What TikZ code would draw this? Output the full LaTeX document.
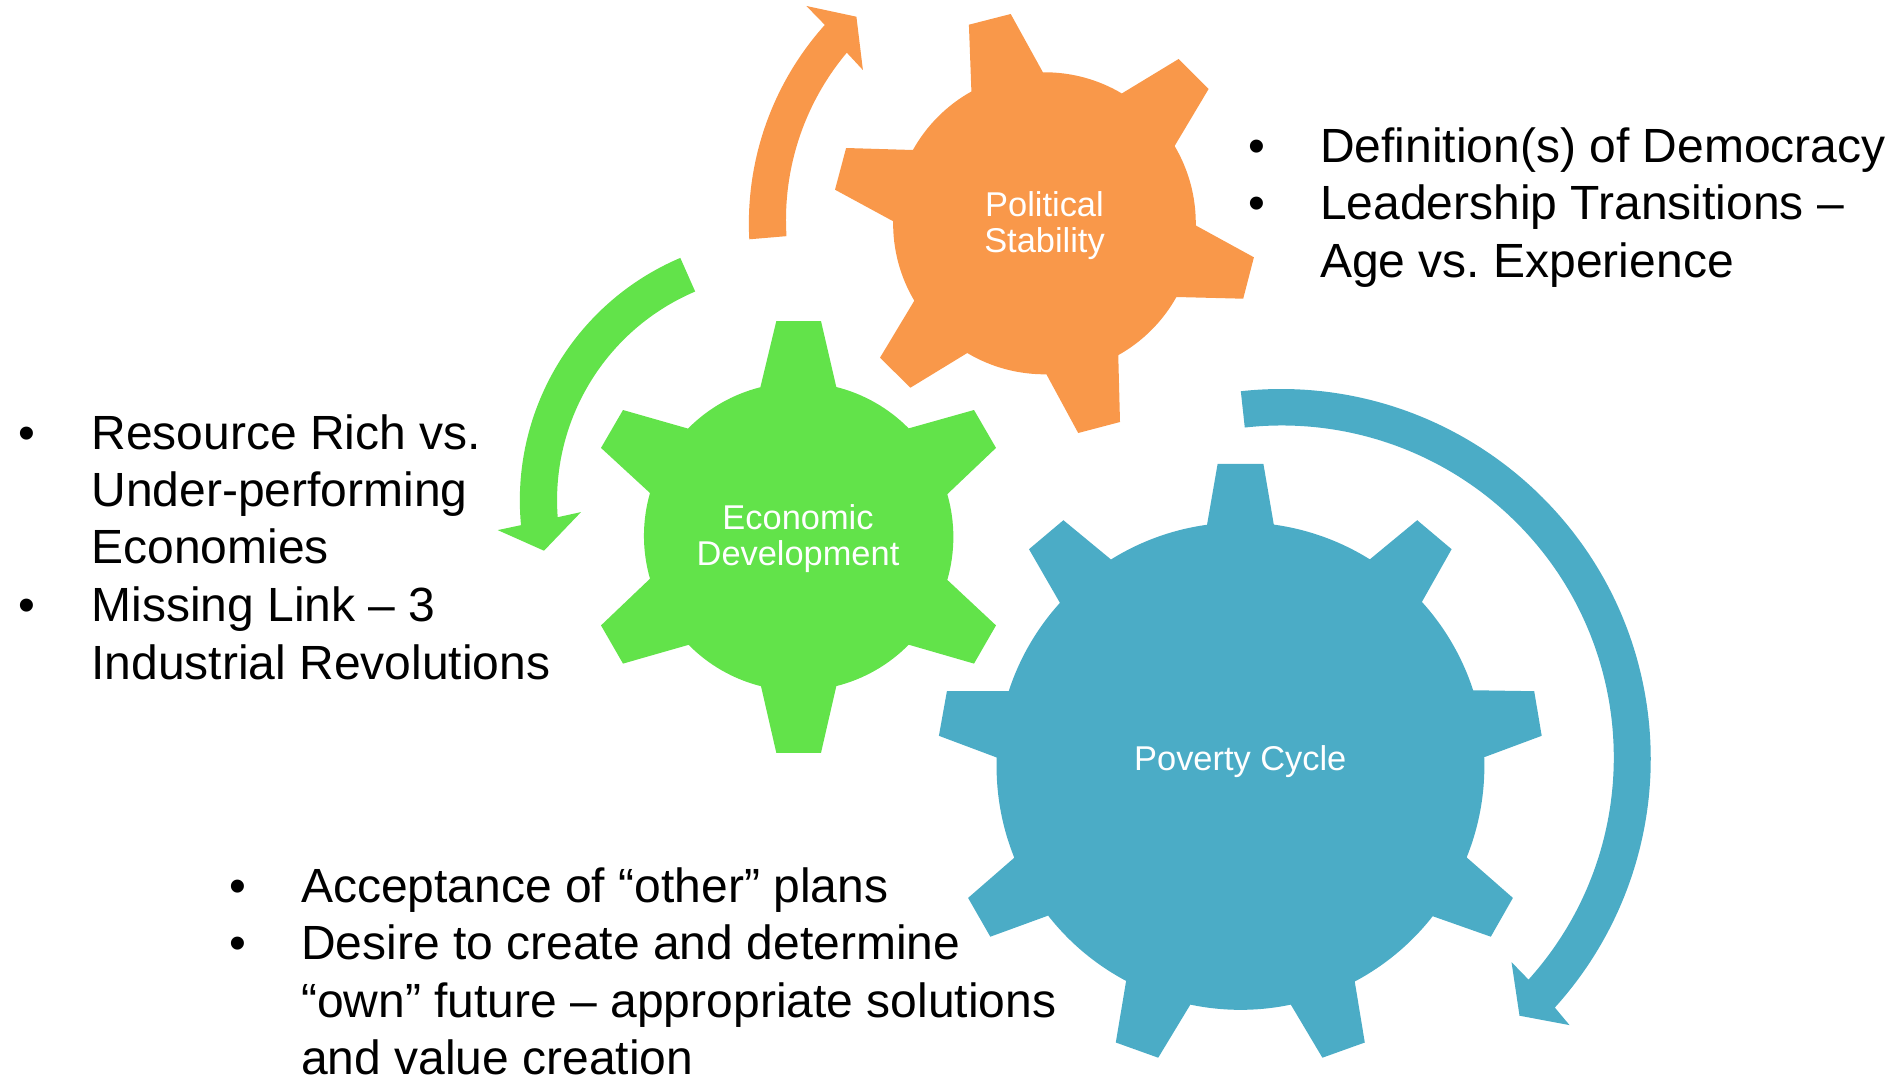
\documentclass[tikz,border=0pt]{standalone}
\usepackage{fontspec}
\setmainfont{Liberation Sans}
\frenchspacing
\definecolor{gearOrange}{HTML}{F9984A}
\definecolor{gearGreen}{HTML}{62E34A}
\definecolor{gearBlue}{HTML}{4BACC6}
\tikzset{
  oa/.style 2 args={start angle=#1,end angle=#2,radius=151},
  ga/.style 2 args={start angle=#1,end angle=#2,radius=154.5},
  ba/.style 2 args={start angle=#1,end angle=#2,radius=243.6},
  gearlabel/.style={text=white,align=center,inner sep=0pt,font=\fontsize{34.4}{36}\selectfont},
  bodytext/.style={anchor=north west,align=left,inner sep=0pt,text=black,font=\frenchspacing\fontsize{48}{57.4}\selectfont},
  bulletmark/.style={anchor=north,inner sep=0pt,text=black,font=\fontsize{48}{57.4}\selectfont},
}
\begin{document}
\begin{tikzpicture}[x=1pt,y=1pt,yscale=-1]
\useasboundingbox (0,0) rectangle (1895,1081);
% Orange arrow
\fill[gearOrange] (749.3,239.3) arc[start angle=176.9,end angle=221.9,radius=297]
  -- (806.4,6) -- (856.4,16.7) -- (862.9,70) -- (846.8,52.7)
  arc[start angle=220,end angle=176.4,radius=260] -- cycle;
% Green arrow
\fill[gearGreen] (680.3,257.9) arc[start angle=247,end angle=174.6,radius=263.4]
  -- (497.7,530.1) -- (544,550.7) -- (581,512.1) -- (557.7,517.2)
  arc[start angle=175.7,end angle=247,radius=226.7] -- cycle;
% Blue arrow
\fill[gearBlue] (1240.8,391.2) arc[start angle=-96.2,end angle=42.2,radius=370]
  -- (1569.5,1025.1) -- (1519.5,1015.7) -- (1511.5,962.1) -- (1528.5,979.6)
  arc[start angle=42,end angle=-96.4,radius=332] -- cycle;
% Orange gear
\fill[gearOrange] (968.9,24.7) -- (1010.7,14) -- (1042.9,72.3)
  arc[oa={-90.7}{-59.3}] -- (1178.6,59) -- (1208.6,89) -- (1174.6,146)
  arc[oa={-30.7}{0.9}] -- (1253.9,257.3) -- (1243.2,298.7) -- (1176.4,297)
  arc[oa={29.2}{60.8}] -- (1120,422) -- (1078.2,433) -- (1046.4,374.3)
  arc[oa={89.3}{120.8}] -- (910.4,387.7) -- (880,357.7) -- (914.3,300.7)
  arc[oa={149.3}{180.9}] -- (835,189.7) -- (846.1,148) -- (912.9,150)
  arc[oa={209.1}{240.9}] -- cycle;
% Green gear
\fill[gearGreen] (776.3,321.1) -- (821,321.1) -- (836.3,387)
  arc[ga={-75.9}{-44.6}] -- (974,410) -- (996,447.9) -- (947.3,494.2)
  arc[ga={-16.1}{16.1}] -- (996,625.4) -- (974,663.6) -- (908.7,644.7)
  arc[ga={44.6}{75.9}] -- (821,752.8) -- (776.3,752.8) -- (761,686.2)
  arc[ga={104.1}{135.4}] -- (623,663.6) -- (601,625.4) -- (650,578.7)
  arc[ga={163.9}{196.1}] -- (601,447.9) -- (623,410) -- (688,428.6)
  arc[ga={224.6}{255.9}] -- cycle;
% Blue gear
\fill[gearBlue] (1217.6,463.9) -- (1263.4,463.9) -- (1273.8,524.6)
  arc[ba={-82.2}{-58}] -- (1417.2,520.2) -- (1451.6,549.2) -- (1421.9,601.9)
  arc[ba={-42.2}{-18}] -- (1534.2,691.2) -- (1541.7,735.8) -- (1484.2,757.2)
  arc[ba={-2.1}{22}] -- (1512.9,897.9) -- (1490.8,936.7) -- (1432.7,916.2)
  arc[ba={38}{62.1}] -- (1364.8,1042.5) -- (1322.4,1057.7) -- (1290.8,1004.6)
  arc[ba={78.1}{101.9}] -- (1158.2,1057.7) -- (1115.8,1042.5) -- (1126.1,980.9)
  arc[ba={117.9}{142}] -- (990.3,936.7) -- (968.1,897.9) -- (1014.3,857.7)
  arc[ba={158}{182.1}] -- (938.9,735.8) -- (946.9,691.2) -- (1008.7,691.2)
  arc[ba={198}{222.2}] -- (1029,549.2) -- (1063.4,520.2) -- (1111,559.5)
  arc[ba={238}{262.2}] -- cycle;
% Gear labels
\node[gearlabel] (political) at (1044.5,225.6) {Political\\Stability};
\node[gearlabel] (economic) at (798,538.6) {Economic\\Development};
\node[gearlabel] (poverty) at (1240.3,761.6) {Poverty Cycle};
% Right list
\node[bulletmark] (bR1) at (1256.4,121.8) {\strut •};
\node[bodytext] (tR1) at (1320,121.8) {\strut Definition(s) of Democracy};
\node[bulletmark] (bR2) at (1256.4,179.6) {\strut •};
\node[bodytext] (tR2) at (1320,179.6) {\strut Leadership Transitions –\\Age vs. Experience};
% Left list
\node[bulletmark] (bL1) at (27,408.8) {\strut •};
\node[bodytext] (tL1) at (91.2,408.8) {\strut Resource Rich vs.\\Under-performing\\Economies};
\node[bulletmark] (bL2) at (27,581.6) {\strut •};
\node[bodytext] (tL2) at (91.2,581.6) {\strut Missing Link – 3\\Industrial Revolutions};
% Bottom list
\node[bulletmark] (bB1) at (237.5,861.8) {\strut •};
\node[bodytext] (tB1) at (301,861.8) {\strut Acceptance of “other” plans};
\node[bulletmark] (bB2) at (237.5,919.6) {\strut •};
\node[bodytext] (tB2) at (301,919.6) {\strut Desire to create and determine\\“own” future – appropriate solutions\\and value creation};
\end{tikzpicture}
\end{document}
